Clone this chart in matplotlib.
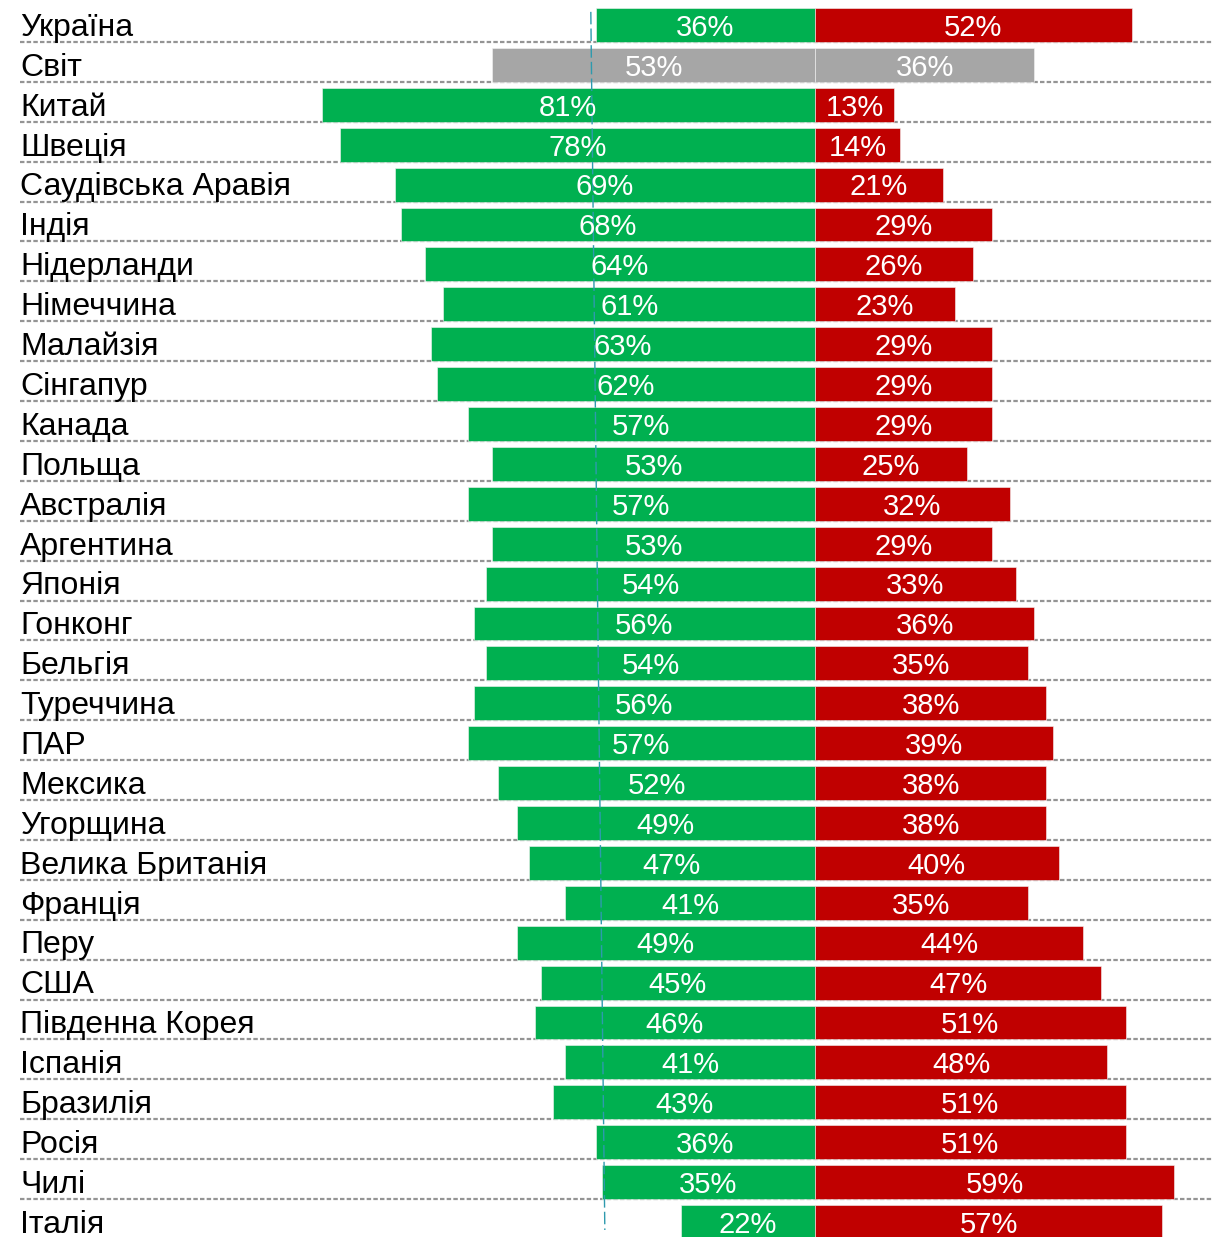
import matplotlib
matplotlib.use('Agg')
import matplotlib.pyplot as plt

# Country names (top to bottom)
countries = ['Україна', 'Світ', 'Китай', 'Швеція', 'Саудівська Аравія', 'Індія',
             'Нідерланди', 'Німеччина', 'Малайзія', 'Сінгапур', 'Канада', 'Польща',
             'Австралія', 'Аргентина', 'Японія', 'Гонконг', 'Бельгія', 'Туреччина',
             'ПАР', 'Мексика', 'Угорщина', 'Велика Британія', 'Франція', 'Перу',
             'США', 'Південна Корея', 'Іспанія', 'Бразилія', 'Росія', 'Чилі', 'Італія']

# Share of positive answers (left, green) and negative answers (right, red), %
positive = [36, 53, 81, 78, 69, 68, 64, 61, 63, 62, 57, 53, 57, 53, 54, 56, 54, 56,
            57, 52, 49, 47, 41, 49, 45, 46, 41, 43, 36, 35, 22]
negative = [52, 36, 13, 14, 21, 29, 26, 23, 29, 29, 29, 25, 32, 29, 33, 36, 35, 38,
            39, 38, 38, 40, 35, 44, 47, 51, 48, 51, 51, 59, 57]

GREEN = '#00B050'
RED = '#C00000'
GREY = '#A6A6A6'

plt.rcParams['font.family'] = ['Liberation Sans', 'DejaVu Sans']

fig = plt.figure(figsize=(12.13, 12.37), dpi=100)
ax = fig.add_axes([0, 0, 1, 1])
ax.set_xlim(-133.8, 65.35)
ax.set_ylim(30.376, -0.627)
ax.axis('off')

n = len(countries)
rows = list(range(n))
bar_h = 0.85
text_dy = 0.07  # nudge text down a little, like the original

for i in rows:
    left_c = GREY if countries[i] == 'Світ' else GREEN
    right_c = GREY if countries[i] == 'Світ' else RED
    ax.barh(i, -positive[i], height=bar_h, color=left_c, edgecolor='#f4f4f4', linewidth=0.4, zorder=2)
    ax.barh(i, negative[i], height=bar_h, color=right_c, edgecolor='#f4f4f4', linewidth=0.4, zorder=2)

    # value labels centred in each bar
    ax.text(-positive[i] / 2, i + text_dy, f'{positive[i]}%', ha='center', va='center',
            color='white', fontsize=21, zorder=4)
    ax.text(negative[i] / 2, i + text_dy, f'{negative[i]}%', ha='center', va='center',
            color='white', fontsize=21, zorder=4)

    # country name
    ax.text(-130.5, i + text_dy, countries[i], ha='left', va='center', color='black',
            fontsize=23, zorder=4)

    # dashed separator under each row
    if i < n - 1:
        ax.plot([-130.5, 65.35], [i + bar_h / 2, i + bar_h / 2], color='#949494',
                linewidth=1.6, dashes=(2.0, 1.0), zorder=1)

# reference line at Ukraine's positive level
ax.plot([-36.8, -34.5], [-0.33, 30.2], color='#2E9AAE', linewidth=1.0,
        dashes=(9, 3), zorder=3)

fig.savefig('out.png', dpi=100)
